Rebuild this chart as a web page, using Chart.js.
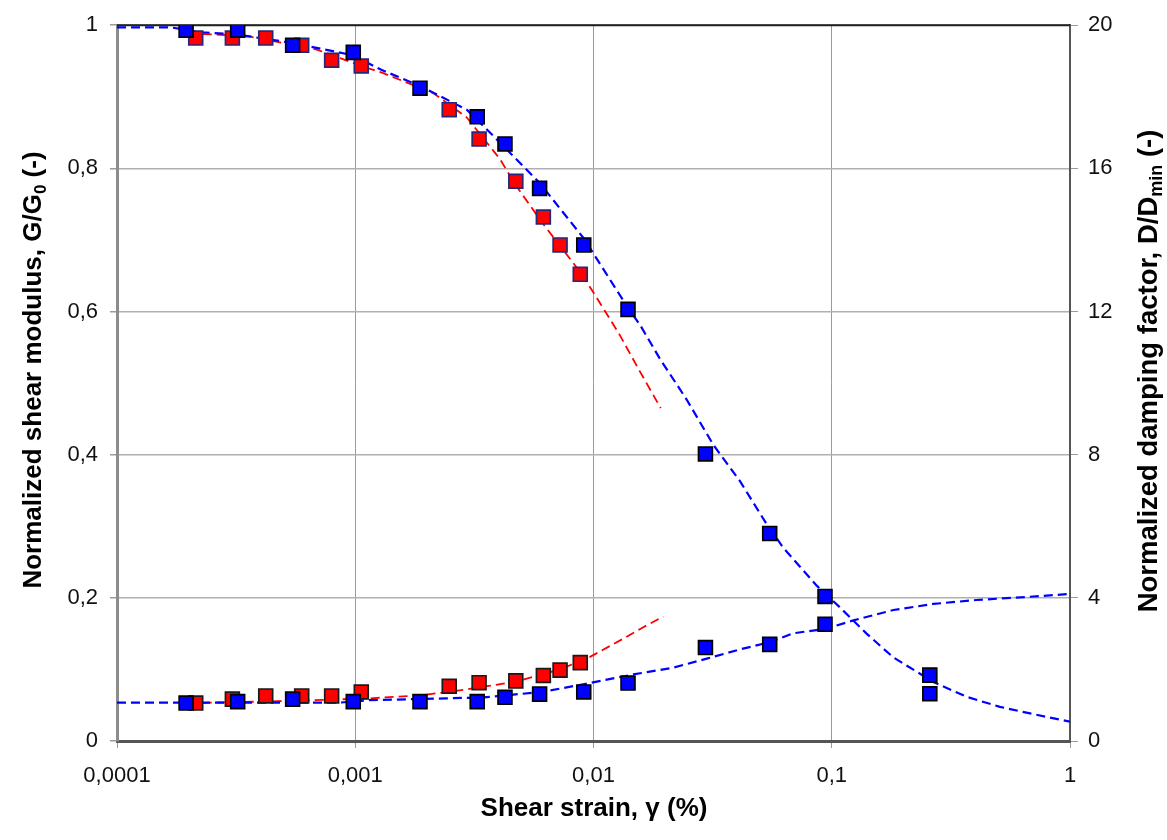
<!DOCTYPE html>
<html>
<head>
<meta charset="utf-8">
<script src="https://cdn.jsdelivr.net/npm/chart.js@4/dist/chart.umd.min.js"></script>
<style>
  html, body { margin: 0; padding: 0; background: #fff; }
  #wrap { width: 1167px; height: 840px; position: relative; }
</style>
</head>
<body>
<div id="wrap"><canvas id="chart"></canvas></div>
<script>
// ── Data ──────────────────────────────────────────────────

const xTickValues = [0.0001, 0.001, 0.01, 0.1, 1];
const xTickLabels = ['0,0001', '0,001', '0,01', '0,1', '1'];
const yTickValues = [0, 0.2, 0.4, 0.6, 0.8, 1];
const yTickLabels = ['0', '0,2', '0,4', '0,6', '0,8', '1'];
const y2TickValues = [0, 4, 8, 12, 16, 20];

// red series: measured points
const redStrain = [0.000214, 0.000305, 0.000421, 0.000596, 0.000796, 0.00106, 0.00248, 0.00331, 0.00472, 0.00616, 0.00724, 0.0088];
const redG      = [0.982, 0.982, 0.982, 0.972, 0.951, 0.943, 0.882, 0.841, 0.782, 0.732, 0.693, 0.652];
const redD      = [1.06, 1.17, 1.26, 1.26, 1.26, 1.37, 1.53, 1.63, 1.68, 1.83, 1.98, 2.19];

// blue series: measured points
const blueStrain  = [0.000195, 0.000321, 0.000546, 0.000981, 0.00187, 0.00325, 0.00425, 0.00594, 0.0091, 0.01396, 0.0295, 0.0549, 0.0937, 0.258, 0.258];
const blueG       = [0.993, 0.993, 0.972, 0.962, 0.912, 0.872, 0.834, 0.772, 0.693, 0.603, 0.401, 0.290, 0.202, 0.092, 0.066];
const blueDStrain = [0.000195, 0.000321, 0.000546, 0.000981, 0.00187, 0.00325, 0.00425, 0.00594, 0.0091, 0.01396, 0.0295, 0.0549, 0.0937];
const blueD       = [1.06, 1.10, 1.17, 1.10, 1.10, 1.10, 1.22, 1.31, 1.37, 1.62, 2.61, 2.70, 3.26];

// dashed fitted curves
const redGCurveStrain = [0.0002, 0.000262, 0.000362, 0.000483, 0.000689, 0.000864, 0.00106, 0.00131, 0.00213, 0.00294, 0.00405, 0.00468, 0.00616, 0.0088, 0.00998, 0.0129, 0.01567, 0.01915];
const redGCurve       = [0.988, 0.987, 0.984, 0.976, 0.966, 0.954, 0.943, 0.933, 0.905, 0.871, 0.813, 0.778, 0.722, 0.655, 0.627, 0.567, 0.516, 0.465];

const blueGCurveStrain = [0.0001, 0.000167, 0.00023, 0.000319, 0.000548, 0.000977, 0.00128, 0.00187, 0.00294, 0.00378, 0.00593, 0.00911, 0.0139, 0.0157, 0.019, 0.0246, 0.0318, 0.0412, 0.0533, 0.0626, 0.0865, 0.108, 0.140, 0.181, 0.267, 0.369, 0.508, 0.680, 1.0];
const blueGCurve       = [0.997, 0.997, 0.990, 0.987, 0.975, 0.958, 0.938, 0.915, 0.882, 0.846, 0.780, 0.702, 0.606, 0.581, 0.534, 0.477, 0.414, 0.363, 0.303, 0.270, 0.217, 0.187, 0.150, 0.117, 0.0825, 0.0616, 0.0477, 0.0385, 0.027];

const redDCurveStrain = [0.0002, 0.00047, 0.00114, 0.00191, 0.00278, 0.00467, 0.00724, 0.00967, 0.01334, 0.01618, 0.01963];
const redDCurve       = [1.06, 1.11, 1.19, 1.28, 1.42, 1.65, 2.0, 2.35, 2.86, 3.18, 3.48];

const blueDCurveStrain = [0.0001, 0.00085, 0.00114, 0.00239, 0.00347, 0.00607, 0.00967, 0.01469, 0.02163, 0.02987, 0.0412, 0.0549, 0.069, 0.0937, 0.1232, 0.1814, 0.2669, 0.406, 0.68, 1.0];
const blueDCurve       = [1.07, 1.07, 1.14, 1.19, 1.22, 1.37, 1.62, 1.86, 2.05, 2.30, 2.56, 2.76, 3.01, 3.13, 3.37, 3.66, 3.83, 3.94, 4.03, 4.11];

// ── Helpers ────────────────────────────────────────────────

const FONT = "'Liberation Sans', Arial, sans-serif";

function pts(xs, ys) {
  return xs.map((x, i) => ({ x, y: ys[i] }));
}

function markers(data, fill, edge, axis) {
  return {
    type: 'scatter', data, yAxisID: axis,
    pointStyle: 'rect', pointRadius: 9.8, pointHoverRadius: 9.8,
    backgroundColor: fill, borderColor: edge, pointBorderWidth: 1.7,
    showLine: false,
  };
}

function curve(data, color, width, axis) {
  return {
    type: 'line', data, yAxisID: axis,
    borderColor: color, borderWidth: width, borderDash: [9, 5],
    pointRadius: 0, fill: false, tension: 0,
  };
}

// rich text (with subscripts) for the axis titles
function drawRich(ctx, parts, cx, cy, rot, size = 26) {
  const big = `bold ${size}px ${FONT}`, small = `bold ${Math.round(size * 0.66)}px ${FONT}`;
  ctx.save();
  ctx.translate(cx, cy);
  ctx.rotate(rot);
  ctx.textBaseline = 'alphabetic';
  ctx.fillStyle = '#000';
  let total = 0;
  parts.forEach(p => {
    ctx.font = p.sub ? small : big;
    p.w = ctx.measureText(p.t).width;
    total += p.w;
  });
  let x = -total / 2;
  parts.forEach(p => {
    ctx.font = p.sub ? small : big;
    ctx.fillText(p.t, x, p.sub ? size * 0.54 : size * 0.365);
    x += p.w;
  });
  ctx.restore();
}

const framePlugin = {
  id: 'frame',
  beforeDatasetsDraw(chart) {
    const { ctx, chartArea: a } = chart;
    ctx.save();
    ctx.strokeStyle = '#222';
    ctx.lineWidth = 2;
    ctx.beginPath();
    ctx.moveTo(a.left, a.top);
    ctx.lineTo(a.right, a.top);
    ctx.stroke();
    ctx.restore();
  },
  afterDraw(chart) {
    const ctx = chart.ctx;
    drawRich(ctx, [{ t: 'Shear strain, γ (%)' }], 594, 807, 0);
    drawRich(ctx, [{ t: 'Normalized shear modulus, G/G' }, { t: '0', sub: true }, { t: ' (-)' }], 32, 370, -Math.PI / 2);
    drawRich(ctx, [{ t: 'Normalized damping factor, D/D' }, { t: 'min', sub: true }, { t: ' (-)' }], 1147, 371, -Math.PI / 2, 27.5);
  }
};

// ── Chart ──────────────────────────────────────────────────

const tickFont = { family: FONT, size: 22 };

new Chart(document.getElementById('chart').getContext('2d'), {
  data: {
    datasets: [
      markers(pts(blueStrain, blueG), '#0000ff', '#000000', 'y'),
      markers(pts(blueDStrain, blueD), '#0000ff', '#000000', 'y2'),
      markers(pts(redStrain, redG), '#ff0000', '#26267a', 'y'),
      markers(pts(redStrain, redD), '#ff0000', '#1a1a1a', 'y2'),
      curve(pts(blueGCurveStrain, blueGCurve), '#0000ff', 2.2, 'y'),
      curve(pts(blueDCurveStrain, blueDCurve), '#0000ff', 2.2, 'y2'),
      curve(pts(redGCurveStrain, redGCurve), '#ff0000', 1.8, 'y'),
      curve(pts(redDCurveStrain, redDCurve), '#ff0000', 1.8, 'y2'),
    ]
  },
  options: {
    responsive: true,
    maintainAspectRatio: false,
    animation: false,
    layout: { padding: { top: 22, left: 0, right: 0, bottom: 0 } },
    plugins: { legend: { display: false }, tooltip: { enabled: false } },
    scales: {
      x: {
        type: 'logarithmic', min: 0.0001, max: 1,
        afterBuildTicks: s => { s.ticks = xTickValues.map(v => ({ value: v })); },
        afterFit: s => { s.height = 99; },
        ticks: {
          autoSkip: false, maxRotation: 0, padding: 15, color: '#111', font: tickFont,
          callback: v => xTickLabels[xTickValues.indexOf(v)] ?? '',
        },
        grid: { color: '#9a9a9a', lineWidth: 1, tickLength: 7, tickColor: '#9a9a9a' },
        border: { color: '#555', width: 3 },
      },
      y: {
        position: 'left', min: 0, max: 1,
        afterBuildTicks: s => { s.ticks = yTickValues.map(v => ({ value: v })); },
        afterFit: s => { s.width = 117; },
        ticks: {
          padding: 12, color: '#111', font: tickFont,
          callback: v => yTickLabels[yTickValues.indexOf(v)] ?? '',
        },
        grid: { color: '#b0b0b0', lineWidth: 1.5, tickLength: 7, tickColor: '#9a9a9a' },
        border: { color: '#8c8c8c', width: 3 },
      },
      y2: {
        position: 'right', min: 0, max: 20,
        afterBuildTicks: s => { s.ticks = y2TickValues.map(v => ({ value: v })); },
        afterFit: s => { s.width = 97; },
        ticks: { padding: 10, color: '#111', font: tickFont },
        grid: { drawOnChartArea: false, tickLength: 8, tickColor: '#9a9a9a' },
        border: { color: '#555', width: 2 },
      },
    }
  },
  plugins: [framePlugin]
});
</script>
</body>
</html>
